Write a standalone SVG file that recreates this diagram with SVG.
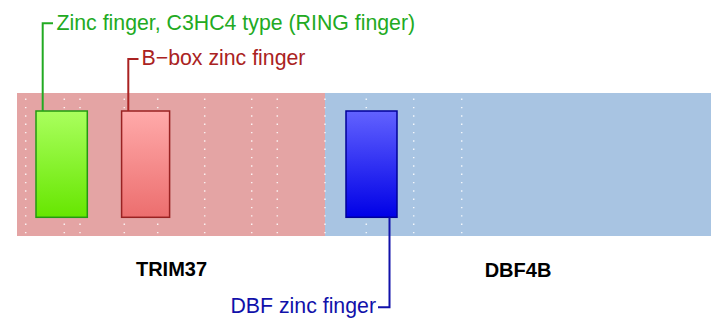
<svg xmlns="http://www.w3.org/2000/svg" width="719" height="326" viewBox="0 0 719 326">
<defs>
<linearGradient id="gG" x1="0" y1="0" x2="0" y2="1"><stop offset="0" stop-color="#aaff5e"/><stop offset="1" stop-color="#66e600"/></linearGradient>
<linearGradient id="gR" x1="0" y1="0" x2="0" y2="1"><stop offset="0" stop-color="#ffaaaa"/><stop offset="1" stop-color="#ec6e6e"/></linearGradient>
<linearGradient id="gB" x1="0" y1="0" x2="0" y2="1"><stop offset="0" stop-color="#6262ff"/><stop offset="1" stop-color="#0000e6"/></linearGradient>
</defs>
<style>
.dot{stroke:#ffffff;stroke-width:1.5;stroke-dasharray:1.4 6.93;stroke-opacity:0.85}
.lbl{font-family:"Liberation Sans",Arial,sans-serif;font-size:21.3px}
.name{font-family:"Liberation Sans",Arial,sans-serif;font-size:20px;font-weight:bold;text-anchor:middle;fill:#000}
.conn{fill:none;stroke-width:2}
</style>
<g id="protein-TRIM37">
<rect x="17" y="93" width="308" height="143" fill="#e4a4a4"/>
<g class="dots">
<line class="dot" x1="25.7" y1="98.6" x2="25.7" y2="236"/>
<line class="dot" x1="64.3" y1="98.6" x2="64.3" y2="236"/>
<line class="dot" x1="80" y1="98.6" x2="80" y2="236"/>
<line class="dot" x1="124.3" y1="98.6" x2="124.3" y2="236"/>
<line class="dot" x1="157.7" y1="98.6" x2="157.7" y2="236"/>
<line class="dot" x1="204.7" y1="98.6" x2="204.7" y2="236"/>
<line class="dot" x1="251.7" y1="98.6" x2="251.7" y2="236"/>
<line class="dot" x1="277.3" y1="98.6" x2="277.3" y2="236"/>
</g>
<text class="name" x="171.5" y="276">TRIM37</text>
</g>
<g id="protein-DBF4B">
<rect x="325" y="93" width="386" height="143" fill="#a8c4e2"/>
<g class="dots">
<line class="dot" x1="325" y1="98.6" x2="325" y2="236"/>
<line class="dot" x1="366.3" y1="98.6" x2="366.3" y2="236"/>
<line class="dot" x1="413.7" y1="98.6" x2="413.7" y2="236"/>
<line class="dot" x1="461.7" y1="98.6" x2="461.7" y2="236"/>
</g>
<text class="name" x="518" y="277">DBF4B</text>
</g>
<g id="domain-ring">
<rect x="36" y="111" width="51.3" height="106.3" fill="url(#gG)" stroke="#229911" stroke-width="1.5"/>
</g>
<g id="domain-bbox">
<rect x="121.6" y="111" width="48" height="106.3" fill="url(#gR)" stroke="#992222" stroke-width="1.5"/>
</g>
<g id="domain-dbf">
<rect x="346" y="111" width="51" height="106.3" fill="url(#gB)" stroke="#000099" stroke-width="1.5"/>
</g>
<g id="connectors">
<path class="conn" stroke="#22aa22" d="M42.7,111 V23.3 H53"/>
<path class="conn" stroke="#aa2222" d="M128.3,111 V59 H138.5"/>
<path class="conn" stroke="#1111aa" d="M389.5,217.3 V307.3 H378"/>
</g>
<g id="labels">
<text class="lbl" x="56.5" y="30" fill="#22aa22">Zinc finger, C3HC4 type (RING finger)</text>
<text class="lbl" x="141.5" y="65" fill="#aa2222">B−box zinc finger</text>
<text class="lbl" x="376" y="313" fill="#1111aa" text-anchor="end">DBF zinc finger</text>
</g>
</svg>
